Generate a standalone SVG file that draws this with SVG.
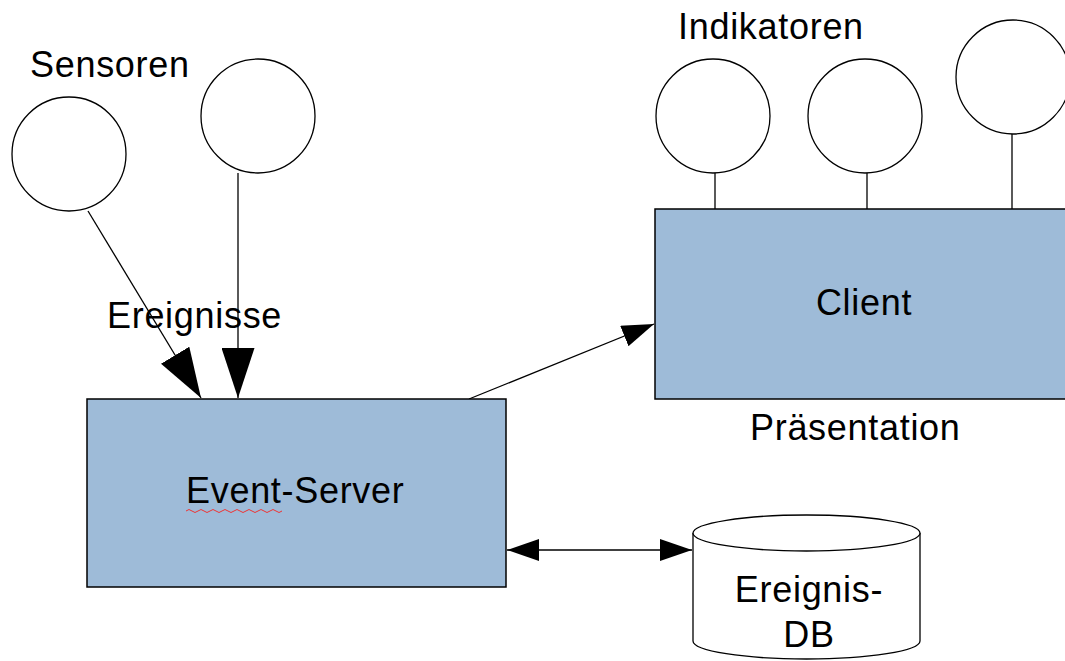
<svg xmlns="http://www.w3.org/2000/svg" width="1065" height="661" viewBox="0 0 1065 661">
<style>
.box{fill:#9ebbd8;stroke:#000;stroke-width:1.5}
.circ{fill:#fff;stroke:#000;stroke-width:1.3}
.ln{stroke:#000;stroke-width:1.3;fill:none}
.t{font-family:"Liberation Sans",Arial,sans-serif;font-size:36px;letter-spacing:0.7px;fill:#000}
.c{text-anchor:middle}
</style>
<defs>
<marker id="big" viewBox="0 0 50 33" refX="50" refY="16.5" markerWidth="50" markerHeight="33" markerUnits="userSpaceOnUse" orient="auto-start-reverse"><path d="M0,0 L50,16.5 L0,33 z" fill="#000"/></marker>
<marker id="mid" viewBox="0 0 32 22" refX="32" refY="11" markerWidth="32" markerHeight="22" markerUnits="userSpaceOnUse" orient="auto-start-reverse"><path d="M0,0 L32,11 L0,22 z" fill="#000"/></marker>
</defs>
<rect width="1065" height="661" fill="#fff"/>
<text class="t" x="30" y="77">Sensoren</text>
<text class="t" x="678" y="39">Indikatoren</text>
<text class="t" x="107" y="328">Ereignisse</text>
<text class="t" x="750" y="440">Präsentation</text>
<g id="sensor1"><circle class="circ" cx="69" cy="154" r="57"/></g>
<g id="sensor2"><circle class="circ" cx="258" cy="116" r="57"/></g>
<g id="ind1"><circle class="circ" cx="713" cy="116" r="57"/></g>
<g id="ind2"><circle class="circ" cx="865" cy="116" r="57"/></g>
<g id="ind3"><circle class="circ" cx="1013" cy="77" r="57"/></g>
<g id="connectors">
<line class="ln" x1="88" y1="211" x2="201" y2="398" marker-end="url(#big)"/>
<line class="ln" x1="238" y1="173" x2="238" y2="398" marker-end="url(#big)"/>
<line class="ln" x1="469" y1="399" x2="654" y2="324" marker-end="url(#mid)"/>
<line class="ln" x1="507" y1="550" x2="692" y2="550" marker-start="url(#mid)" marker-end="url(#mid)"/>
<line class="ln" x1="715" y1="173" x2="715" y2="209"/>
<line class="ln" x1="867" y1="173" x2="867" y2="209"/>
<line class="ln" x1="1012" y1="134" x2="1012" y2="209"/>
</g>
<g id="server">
<rect class="box" x="87" y="399" width="419" height="188"/>
<text class="t" x="186" y="503">Event-Server</text>
<path d="M186,511 q3,-3 6,0 t6,0 t6,0 t6,0 t6,0 t6,0 t6,0 t6,0 t6,0 t6,0 t6,0 t6,0 t6,0 t6,0 t6,0 t6,0" fill="none" stroke="#e33" stroke-width="1"/>
</g>
<g id="client">
<rect class="box" x="655" y="209" width="420" height="190"/>
<text class="t c" x="864" y="315">Client</text>
</g>
<g id="db">
<path d="M693,533 L693,641 A113.5,18 0 0 0 920,641 L920,533" fill="#fff" stroke="#000" stroke-width="1.3"/>
<ellipse cx="806.5" cy="533" rx="113.5" ry="18" fill="#fff" stroke="#000" stroke-width="1.3"/>
<text class="t c" x="809" y="602">Ereignis-</text>
<text class="t c" x="809" y="647">DB</text>
</g>
</svg>
